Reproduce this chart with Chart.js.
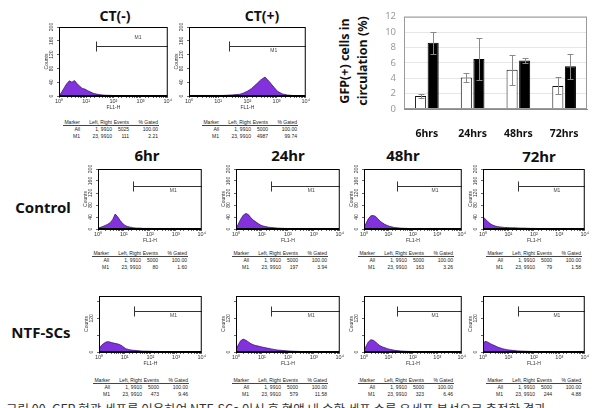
<!DOCTYPE html>
<html>
<head>
<meta charset="utf-8">
<script src="https://cdn.jsdelivr.net/npm/chart.js@4.4.0/dist/chart.umd.min.js"></script>
<style>
body { margin: 0; background: #fff; }
#wrap { position: relative; width: 604px; height: 408px; overflow: hidden; background: #fff; font-family: "Liberation Sans", Arial, sans-serif; }
canvas { position: absolute; }
.ttl { position: absolute; font-family: "Noto Sans", sans-serif; font-weight: 700; color: #111; transform: translate(-50%, -50%); white-space: nowrap; }
.cell { position: absolute; font-size: 5px; line-height: 6px; color: #222; white-space: nowrap; transform: translateX(-100%); }
.rule { position: absolute; height: 0; border-top: 0.8px solid #444; }
#ylab { position: absolute; left: 354px; top: 61px; transform: translate(-50%, -50%) rotate(-90deg); font-family: "Noto Sans", sans-serif; font-weight: 700; font-size: 12.5px; line-height: 18px; text-align: center; color: #111; white-space: nowrap; }
#caption { position: absolute; left: 6px; top: 402px; font-family: "Noto Sans CJK KR", sans-serif; font-size: 12.5px; line-height: 14px; color: #333; white-space: nowrap; }
</style>
</head>
<body>
<div id="wrap">
  <div id="ylab">GFP(+) cells in<br>circulation (%)</div>
  <div id="caption">그림 00. GFP 형광 세포를 이용하여 NTF-SCs 이식 후 혈액 내 순환 세포 수를 유세포 분석으로 측정한 결과</div>
</div>
<script>
// 막대 그래프 데이터
const timeCats = ['6hrs', '24hrs', '48hrs', '72hrs'];
const ctrlMean = [1.7, 4.1, 5.1, 3.0];
const ctrlErr = [0.3, 0.6, 1.95, 1.1];
const ntfMean = [8.6, 6.5, 6.3, 5.55];
const ntfErr = [1.4, 2.7, 0.3, 1.6];
const pctTicks = [0, 2, 4, 6, 8, 10, 12];

// 히스토그램 데이터 (FL1-H 채널, 카운트)
const fl1Channels = [1, 1.2, 1.5, 1.9, 2.4, 3, 3.7, 4.6, 5.8, 7.2, 9, 11, 14, 18, 23, 30, 40, 55, 75, 100, 140, 200, 280, 400, 560, 800, 1100, 1600, 2300, 3500, 5000, 7000, 10000];
const ctNegCounts = [3, 8, 22, 35, 44, 40, 45, 36, 28, 22, 20, 16, 12, 8, 6, 4, 3, 2, 2, 1, 1, 1, 0.5, 0.5, 0.5, 0.5, 0, 0, 0, 0, 0, 0, 0];
const ctPosCounts = [1.5, 1.5, 1.5, 1.5, 1.5, 1.5, 1.5, 1.5, 1.5, 1.5, 1.5, 1.5, 1.5, 2, 2.5, 3, 4, 5, 9, 14, 22, 34, 46, 55, 42, 26, 13, 6, 3, 1.5, 1, 0, 0];
const ctl6Counts = [3, 5, 8, 12, 16, 22, 32, 50, 40, 28, 18, 12, 8, 6, 4, 3, 3, 2, 2, 2, 1.5, 1.5, 1, 1, 1, 1, 0.5, 0.5, 0.5, 0, 0, 0, 0];
const ctl24Counts = [5, 15, 32, 46, 52, 48, 38, 30, 24, 18, 13, 10, 8, 6, 5, 4, 3, 2.5, 2, 1.5, 1, 1, 1, 0.5, 0.5, 0.5, 0.5, 0, 0, 0, 0, 0, 0];
const ctl48Counts = [6, 18, 34, 44, 45, 42, 34, 26, 20, 15, 12, 9, 7, 5, 4, 3, 2.5, 2, 1.5, 1, 1, 1, 0.5, 0.5, 0.5, 0.5, 0, 0, 0, 0, 0, 0, 0];
const ctl72Counts = [40, 34, 26, 18, 13, 10, 8, 7, 6, 5, 5, 4.5, 4, 4, 3.5, 3, 3, 2.5, 2, 2, 1.5, 1.5, 1, 1, 1, 0.5, 0.5, 0.5, 0, 0, 0, 0, 0];
const ntf6Counts = [10, 22, 30, 36, 37, 34, 32, 30, 28, 24, 18, 12, 9, 7, 6, 5, 4, 3, 3, 2.5, 2, 2, 1.5, 1.5, 1, 1, 0.5, 0.5, 0.5, 0, 0, 0, 0];
const ntf24Counts = [8, 24, 40, 46, 42, 36, 30, 26, 23, 21, 19, 17, 15, 13, 11, 9, 7, 6, 5, 4, 3, 2.5, 2, 1.5, 1, 1, 0.5, 0.5, 0.5, 0, 0, 0, 0];
const ntf48Counts = [6, 20, 36, 44, 42, 36, 28, 22, 18, 15, 12, 10, 8, 6, 5, 4, 3, 2.5, 2, 1.5, 1, 1, 0.5, 0.5, 0.5, 0.5, 0, 0, 0, 0, 0, 0, 0];
const ntf72Counts = [30, 38, 36, 30, 26, 22, 18, 15, 12, 10, 8, 7, 6, 5, 4, 3.5, 3, 2.5, 2, 1.5, 1, 1, 1, 0.5, 0.5, 0.5, 0, 0, 0, 0, 0, 0, 0];
const countTicks = [0, 40, 80, 120, 160, 200];

// 게이트 통계표
const gateLeft = 23, gateRight = 9910;
const gateY = 145;
const allEvents = [5025, 5000, 5000, 5000, 5000, 5000, 5000, 5000, 5000, 5000];
const m1Events = [111, 4987, 80, 197, 163, 79, 473, 579, 323, 244];
const m1Gated = ['2.21', '99.74', '1.60', '3.94', '3.26', '1.58', '9.46', '11.58', '6.46', '4.88'];

const histFill = '#8232dc';
const histEdge = '#2c0a5c';
const sup = ['⁰', '¹', '²', '³', '⁴'];
const wrap = document.getElementById('wrap');

// 패널 배치
const panels = [
  { counts: ctNegCounts, box: [59, 26, 169, 96], tbl: [63, 119], above: true },
  { counts: ctPosCounts, box: [189, 26, 307, 96], tbl: [202, 119], above: false },
  { counts: ctl6Counts, box: [98, 168, 203, 229], tbl: [92, 250], above: false },
  { counts: ctl24Counts, box: [236, 168, 341, 229], tbl: [232, 250], above: false },
  { counts: ctl48Counts, box: [364, 168, 463, 229], tbl: [358, 250], above: false },
  { counts: ctl72Counts, box: [483, 168, 586, 229], tbl: [486, 250], above: false },
  { counts: ntf6Counts, box: [99, 295, 203, 352], tbl: [93, 377], above: false },
  { counts: ntf24Counts, box: [236, 295, 341, 352], tbl: [232, 377], above: false },
  { counts: ntf48Counts, box: [364, 295, 463, 352], tbl: [358, 377], above: false },
  { counts: ntf72Counts, box: [483, 295, 586, 352], tbl: [486, 377], above: false }
];

const titles = [
  ['CT(-)', 115, 15, 14], ['CT(+)', 262, 15, 14],
  ['6hr', 147, 155, 15], ['24hr', 288, 155, 15], ['48hr', 403, 155, 15], ['72hr', 539, 156, 15],
  ['Control', 43, 207, 15], ['NTF-SCs', 41, 332, 15]
];
titles.forEach(([txt, x, y, fs]) => {
  const d = document.createElement('div');
  d.className = 'ttl';
  d.textContent = txt;
  d.style.left = x + 'px';
  d.style.top = y + 'px';
  d.style.fontSize = fs + 'px';
  wrap.appendChild(d);
});

// 테두리
const frame = {
  id: 'frame',
  afterDraw(chart, args, opts) {
    const { ctx, chartArea: a } = chart;
    ctx.save();
    ctx.strokeStyle = opts.color || '#000';
    ctx.lineWidth = opts.width || 1;
    ctx.strokeRect(a.left + 0.5, a.top + 0.5, a.right - a.left - 1, a.bottom - a.top - 1);
    ctx.restore();
  }
};

// M1 게이트 표시
const gate = {
  id: 'gate',
  afterDatasetsDraw(chart, args, opts) {
    const { ctx, scales: { x, y } } = chart;
    const x0 = Math.round(x.getPixelForValue(gateLeft)) + 0.5;
    const x1 = x.getPixelForValue(gateRight);
    const yy = Math.round(y.getPixelForValue(gateY)) + 0.5;
    ctx.save();
    ctx.strokeStyle = '#333';
    ctx.lineWidth = 1;
    ctx.beginPath();
    ctx.moveTo(x0, yy); ctx.lineTo(x1, yy);
    ctx.moveTo(x0, yy - 5); ctx.lineTo(x0, yy + 5);
    ctx.stroke();
    ctx.fillStyle = '#444';
    ctx.font = '5px "Liberation Sans", Arial';
    ctx.textAlign = 'center';
    ctx.textBaseline = opts.above ? 'bottom' : 'top';
    ctx.fillText('M1', x.getPixelForValue(800), opts.above ? yy - 6 : yy + 2);
    ctx.restore();
  }
};

function histChart(p) {
  const [l, t, r, b] = p.box;
  const padL = 2, axW = 15, padT = 3, padR = 3, axH = 15, padB = 1;
  const cv = document.createElement('canvas');
  cv.width = (r - l) + padL + axW + padR;
  cv.height = (b - t) + padT + axH + padB;
  cv.style.left = (l - padL - axW) + 'px';
  cv.style.top = (t - padT) + 'px';
  wrap.appendChild(cv);
  new Chart(cv, {
    type: 'line',
    data: {
      datasets: [{
        data: fl1Channels.map((v, i) => ({ x: v, y: p.counts[i] })),
        fill: 'origin',
        backgroundColor: histFill,
        borderColor: histEdge,
        borderWidth: 0.7,
        pointRadius: 0,
        tension: 0
      }]
    },
    options: {
      responsive: false,
      animation: false,
      devicePixelRatio: 1,
      layout: { padding: { left: padL, top: padT, right: padR, bottom: padB } },
      plugins: {
        legend: { display: false },
        tooltip: { enabled: false },
        frame: { color: '#000', width: 1 },
        gate: { above: p.above }
      },
      scales: {
        x: {
          type: 'logarithmic', min: 1, max: 10000,
          afterFit: s => { s.height = axH; },
          grid: { drawOnChartArea: false, tickLength: 2, color: '#000', lineWidth: 0.6 },
          border: { color: '#000' },
          ticks: {
            autoSkip: false, maxRotation: 0, padding: 0, color: '#333',
            font: { size: 5.5, family: '"Liberation Sans", Arial' },
            callback: v => {
              const e = Math.log10(v);
              return Math.abs(e - Math.round(e)) < 1e-9 ? '10' + sup[Math.round(e)] : '';
            }
          },
          title: { display: true, text: 'FL1-H', color: '#333', padding: 0, font: { size: 5, family: '"Liberation Sans", Arial' } }
        },
        y: {
          min: 0, max: 200,
          afterFit: s => { s.width = axW; },
          grid: { drawOnChartArea: false, tickLength: 2, color: '#000', lineWidth: 0.6 },
          border: { color: '#000' },
          ticks: {
            stepSize: 20, padding: 1, color: '#333', minRotation: 90, maxRotation: 90, crossAlign: 'center',
            font: { size: 5, family: '"Liberation Sans", Arial' },
            callback: v => countTicks.includes(v) ? String(v) : ''
          },
          title: { display: true, text: 'Counts', color: '#333', padding: 0, font: { size: 5, family: '"Liberation Sans", Arial' } }
        }
      }
    },
    plugins: [frame, gate]
  });
}

function statsTable(p, i) {
  const [tx, ty] = p.tbl;
  const cols = [17, 49, 66, 95];
  const rows = [
    ['Marker', 'Left, Right', 'Events', '% Gated'],
    ['All', '1, ' + gateRight, String(allEvents[i]), '100.00'],
    ['M1', gateLeft + ', ' + gateRight, String(m1Events[i]), m1Gated[i]]
  ];
  const rowY = [0, 7, 14];
  rows.forEach((row, ri) => {
    row.forEach((txt, ci) => {
      const c = document.createElement('div');
      c.className = 'cell';
      c.textContent = txt;
      c.style.left = (tx + cols[ci]) + 'px';
      c.style.top = (ty + rowY[ri]) + 'px';
      wrap.appendChild(c);
    });
  });
  const rule = document.createElement('div');
  rule.className = 'rule';
  rule.style.left = tx + 'px';
  rule.style.top = (ty + 6) + 'px';
  rule.style.width = '96px';
  wrap.appendChild(rule);
}

panels.forEach((p, i) => { histChart(p); statsTable(p, i); });

// 오차 막대
const errorBars = {
  id: 'errorBars',
  afterDatasetsDraw(chart) {
    const { ctx, scales: { y } } = chart;
    const errs = [ctrlErr, ntfErr];
    ctx.save();
    ctx.strokeStyle = '#8a8a8a';
    ctx.lineWidth = 1;
    chart.data.datasets.forEach((ds, di) => {
      chart.getDatasetMeta(di).data.forEach((bar, i) => {
        const x = Math.round(bar.x) + 0.5;
        const yt = Math.round(y.getPixelForValue(ds.data[i] + errs[di][i])) + 0.5;
        const yb = Math.round(y.getPixelForValue(ds.data[i] - errs[di][i])) + 0.5;
        ctx.beginPath();
        ctx.moveTo(x, yt); ctx.lineTo(x, yb);
        ctx.moveTo(x - 3, yt); ctx.lineTo(x + 3, yt);
        ctx.moveTo(x - 3, yb); ctx.lineTo(x + 3, yb);
        ctx.stroke();
      });
    });
    ctx.restore();
  }
};

const barCv = document.createElement('canvas');
barCv.width = 218;
barCv.height = 135;
barCv.style.left = '376px';
barCv.style.top = '3px';
wrap.appendChild(barCv);

new Chart(barCv, {
  type: 'bar',
  data: {
    labels: timeCats,
    datasets: [
      { data: ctrlMean, backgroundColor: '#fff', borderColor: '#111', borderWidth: 1 },
      { data: ntfMean, backgroundColor: '#000', borderColor: '#000', borderWidth: 1 }
    ]
  },
  options: {
    responsive: false,
    animation: false,
    devicePixelRatio: 1,
    layout: { padding: { left: 0, top: 8, right: 7, bottom: 0 } },
    categoryPercentage: 0.55,
    barPercentage: 0.88,
    plugins: {
      legend: { display: false },
      tooltip: { enabled: false },
      frame: { color: '#9a9a9a', width: 1 }
    },
    scales: {
      x: {
        afterFit: s => { s.height = 29; },
        grid: { display: false },
        border: { color: '#8a8a8a' },
        ticks: { padding: 11, color: '#111', font: { size: 10.5, weight: 'bold', family: '"Noto Sans", sans-serif' } }
      },
      y: {
        min: 0, max: 12,
        afterFit: s => { s.width = 28; },
        afterBuildTicks: s => { s.ticks = pctTicks.map(v => ({ value: v })); },
        grid: { color: '#e6e6e6', drawTicks: false },
        border: { display: false },
        ticks: { padding: 8, color: '#9a9a9a', font: { size: 9.5, family: '"Noto Sans", sans-serif' } }
      }
    }
  },
  plugins: [frame, errorBars]
});
</script>
</body>
</html>
